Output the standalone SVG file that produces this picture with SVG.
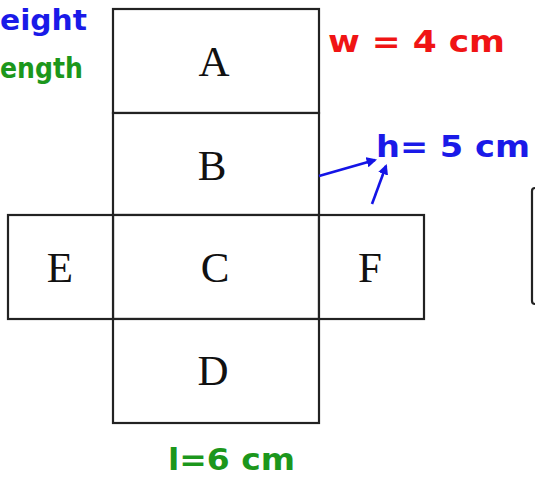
<svg xmlns="http://www.w3.org/2000/svg" width="535" height="480" viewBox="0 0 535 480">
<style>
.face{fill:#fff;stroke:#222;stroke-width:2.2}
.lt{font-family:"Liberation Serif","Times New Roman",serif;font-size:43px;fill:#111;text-anchor:middle}
.lab{font-family:"DejaVu Sans","Noto Sans",sans-serif;font-weight:bold}
.conn{stroke:#1414e6;stroke-width:2.6;fill:none;marker-end:url(#ah)}
</style>
<defs>
<marker id="ah" viewBox="0 0 10 10" refX="8" refY="5" markerWidth="4" markerHeight="4" orient="auto" markerUnits="strokeWidth">
<path d="M0,0 L10,5 L0,10 z" fill="#1414e6"/>
</marker>
</defs>
<rect width="535" height="480" fill="#fff"/>
<g id="node-A"><rect class="face" x="113" y="9" width="206" height="104"/><text class="lt" x="214" y="76">A</text></g>
<g id="node-B"><rect class="face" x="113" y="113" width="206" height="102"/><text class="lt" x="212" y="180">B</text></g>
<g id="node-C"><rect class="face" x="113" y="215" width="206" height="104"/><text class="lt" x="215" y="282">C</text></g>
<g id="node-D"><rect class="face" x="113" y="319" width="206" height="104"/><text class="lt" x="213" y="385">D</text></g>
<g id="node-E"><rect class="face" x="8" y="215" width="105" height="104"/><text class="lt" x="60" y="282">E</text></g>
<g id="node-F"><rect class="face" x="319" y="215" width="105" height="104"/><text class="lt" x="370" y="282">F</text></g>
<g id="node-partial"><rect class="face" x="532" y="188" width="20" height="116" rx="3"/></g>
<g id="labels">
<text class="lab" x="0" y="30" font-size="29" fill="#1a1ae8" textLength="87" lengthAdjust="spacingAndGlyphs">eight</text>
<text class="lab" x="0" y="78" font-size="29" fill="#1c971c" textLength="83" lengthAdjust="spacingAndGlyphs">ength</text>
<text class="lab" x="328" y="52" font-size="30" fill="#f01414" textLength="177" lengthAdjust="spacingAndGlyphs">w = 4 cm</text>
<text class="lab" x="376" y="157" font-size="31" fill="#1a1ae8" textLength="154" lengthAdjust="spacingAndGlyphs">h= 5 cm</text>
<text class="lab" x="168" y="470" font-size="30" fill="#1c971c" textLength="127" lengthAdjust="spacingAndGlyphs">l=6 cm</text>
</g>
<g id="connectors">
<line class="conn" x1="319" y1="176" x2="375" y2="160"/>
<line class="conn" x1="372" y1="204" x2="386" y2="166"/>
</g>
</svg>
